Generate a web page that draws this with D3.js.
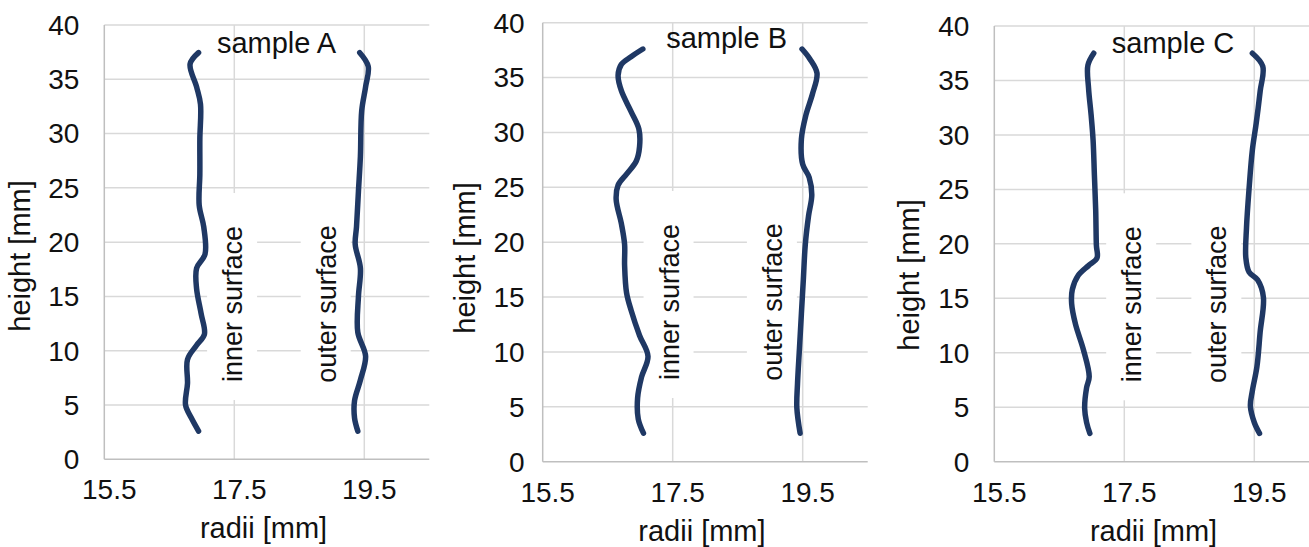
<!DOCTYPE html>
<html>
<head>
<meta charset="utf-8">
<script src="https://cdn.jsdelivr.net/npm/d3@7"></script>
<style>
  body { margin: 0; background: #fff; }
  text { font-family: "Liberation Sans", Arial, sans-serif; fill: #111; }
</style>
</head>
<body>
<div id="chart"></div>
<script>
// ---- data (radius [mm], height [mm]) ----
var heightTicks = [0, 5, 10, 15, 20, 25, 30, 35, 40];
var radiusTicks = [15.5, 17.5, 19.5];
var panelNames = ["sample A", "sample B", "sample C"];

var innerA = [[16.95,37.45],[16.82,36.4],[16.92,34.3],[16.98,32.7],[16.97,29.5],[16.97,26.3],[16.96,23.4],
    [17.03,21.4],[17.05,18.9],[16.92,17.6],[16.92,15.7],[16.99,13.4],[17.04,11.5],[16.92,10.5],[16.78,9.2],
    [16.78,7.0],[16.75,5.0],[16.84,3.8],[16.95,2.6]];
var outerA = [[19.43,37.45],[19.56,36.2],[19.52,34.3],[19.46,32.1],[19.44,27.9],[19.41,24.7],[19.38,21.4],
    [19.36,19.8],[19.44,17.6],[19.41,15.0],[19.40,11.7],[19.52,9.5],[19.44,7.3],[19.35,5.4],[19.35,3.8],[19.40,2.6]];

var innerB = [[17.04,37.6],[16.86,36.9],[16.71,36.2],[16.66,35.2],[16.71,33.8],[16.86,31.9],[16.98,30.3],
    [16.99,28.7],[16.94,27.4],[16.79,26.2],[16.66,25.2],[16.63,23.9],[16.71,21.7],[16.76,19.8],[16.76,17.9],
    [16.79,15.4],[16.86,13.8],[16.99,11.5],[17.12,9.6],[17.02,7.7],[16.96,5.8],[16.97,3.9],[17.05,2.6]];
var outerB = [[19.49,37.6],[19.61,36.7],[19.72,35.4],[19.65,33.5],[19.55,31.6],[19.48,29.4],[19.50,27.1],
    [19.60,25.9],[19.64,24.3],[19.59,22.4],[19.54,19.8],[19.51,16.6],[19.48,13.5],[19.45,10.3],[19.42,7.1],
    [19.41,4.9],[19.46,2.6]];

var innerC = [[17.03,37.5],[16.94,36.4],[16.95,34.3],[16.99,31.8],[17.02,29.5],[17.04,26.3],[17.06,23.1],
    [17.07,19.9],[17.08,18.7],[16.95,18.0],[16.79,17.1],[16.70,15.8],[16.69,14.5],[16.75,12.6],[16.87,10.3],
    [16.96,7.8],[16.92,6.8],[16.89,4.9],[16.92,3.6],[16.97,2.6]];
var outerC = [[19.47,37.5],[19.63,36.3],[19.59,34.0],[19.53,31.1],[19.47,28.6],[19.42,25.1],[19.38,21.5],
    [19.37,18.7],[19.42,17.4],[19.55,16.7],[19.64,15.1],[19.59,11.9],[19.54,8.7],[19.47,6.5],[19.44,5.1],
    [19.50,3.6],[19.58,2.6]];

// annotation anchors in data units: [radius, height]
var titlePos = [[18.15, 37.4], [18.33, 37.65], [18.25, 37.5]];
var innerLabelPos = [[17.62, 14.3], [17.59, 14.55], [17.76, 14.45]];
var outerLabelPos = [[19.06, 14.3], [19.18, 14.55], [19.07, 14.45]];

// ---- layout (pixels) ----
var width = 1309, height = 547;
var panels = [
    {left: 104.3, right: 429.3, top: 25, bottom: 459.3, tickGap: 25, yTitleX: -74.8, yTitleY: 256},
    {left: 542.7, right: 867.7, top: 22.7, bottom: 461.7, tickGap: 18, yTitleX: -68.2, yTitleY: 258},
    {left: 994.3, right: 1319.3, top: 26, bottom: 461.7, tickGap: 25, yTitleX: -75.3, yTitleY: 275}
];
var series = [[innerA, outerA], [innerB, outerB], [innerC, outerC]];

var lineColor = "#1f3864";
var gridColor = "#d9d9d9";
var axisColor = "#bfbfbf";

var svg = d3.select("#chart").append("svg")
    .attr("width", width)
    .attr("height", height);

panels.forEach(function(p, i){
    var x = d3.scaleLinear().domain([15.5, 20.5]).range([p.left, p.right]);
    var y = d3.scaleLinear().domain([0, 40]).range([p.bottom, p.top]);
    var g = svg.append("g").attr("class", "panel");

    // horizontal grid
    g.selectAll(".hgrid").data(heightTicks.filter(d => d > 0)).enter()
        .append("line")
        .attr("x1", x(15.5)).attr("x2", x(20.5))
        .attr("y1", d => y(d)).attr("y2", d => y(d))
        .attr("stroke", gridColor).attr("stroke-width", 1.5);

    // vertical grid
    g.selectAll(".vgrid").data(radiusTicks.filter(d => d > 15.5)).enter()
        .append("line")
        .attr("x1", d => x(d)).attr("x2", d => x(d))
        .attr("y1", y(0)).attr("y2", y(40))
        .attr("stroke", gridColor).attr("stroke-width", 1.5);

    // axes lines
    g.append("line")
        .attr("x1", x(15.5)).attr("x2", x(15.5)).attr("y1", y(0)).attr("y2", y(40))
        .attr("stroke", axisColor).attr("stroke-width", 1.5);
    g.append("line")
        .attr("x1", x(15.5)).attr("x2", x(20.5)).attr("y1", y(0)).attr("y2", y(0))
        .attr("stroke", axisColor).attr("stroke-width", 1.5);

    // tick labels
    g.selectAll(".ytick").data(heightTicks).enter()
        .append("text")
        .attr("x", x(15.5) - p.tickGap)
        .attr("y", d => y(d))
        .attr("dy", "0.35em")
        .attr("text-anchor", "end")
        .style("font-size", "28px")
        .text(d => d);

    g.selectAll(".xtick").data(radiusTicks).enter()
        .append("text")
        .attr("x", d => x(d) + 5)
        .attr("y", y(0) + 40)
        .attr("text-anchor", "middle")
        .style("font-size", "28px")
        .text(d => d.toFixed(1));

    // axis titles
    g.append("text")
        .attr("transform", "translate(" + (x(15.5) + p.yTitleX) + "," + p.yTitleY + ") rotate(-90)")
        .attr("text-anchor", "middle")
        .style("font-size", "29px")
        .text("height [mm]");

    g.append("text")
        .attr("x", x(17.95))
        .attr("y", y(0) + 79)
        .attr("text-anchor", "middle")
        .style("font-size", "29px")
        .text("radii [mm]");

    // surface labels with white box
    [["inner surface", innerLabelPos[i]], ["outer surface", outerLabelPos[i]]].forEach(function(lab){
        var bx = x(lab[1][0]), cy = y(lab[1][1]);
        g.append("rect")
            .attr("x", bx - 35).attr("width", 50)
            .attr("y", cy - 111).attr("height", 207)
            .attr("fill", "#fff");
        g.append("text")
            .attr("transform", "translate(" + bx + "," + cy + ") rotate(-90)")
            .attr("text-anchor", "middle")
            .style("font-size", "27px")
            .text(lab[0]);
    });

    // profile lines
    var line = d3.line()
        .x(d => x(d[0]))
        .y(d => y(d[1]))
        .curve(d3.curveCatmullRom.alpha(0.5));

    series[i].forEach(function(s){
        g.append("path")
            .datum(s)
            .attr("d", line)
            .attr("fill", "none")
            .attr("stroke", lineColor)
            .attr("stroke-width", 5.5)
            .attr("stroke-linecap", "round")
            .attr("stroke-linejoin", "round");
    });

    // sample title
    g.append("text")
        .attr("x", x(titlePos[i][0]))
        .attr("y", y(titlePos[i][1]))
        .attr("text-anchor", "middle")
        .style("font-size", "29px")
        .text(panelNames[i]);
});
</script>
</body>
</html>
